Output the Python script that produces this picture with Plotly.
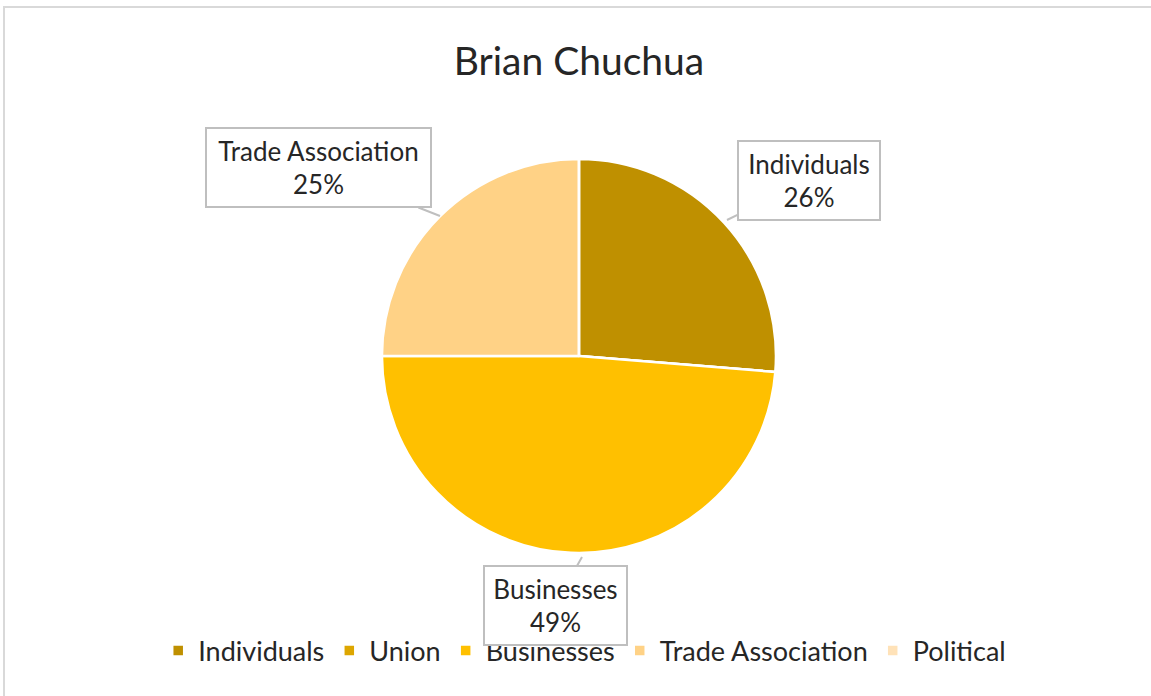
import plotly.graph_objects as go

title = "Brian Chuchua"
categories = ["Individuals", "Union", "Businesses", "Trade Association", "Political"]
values = [26.3, 0, 48.7, 25.0, 0]
colors = ["#BF9000", "#DDA600", "#FFC000", "#FFD286", "#FFE2B8"]

FONT = "Lato"

fig = go.Figure(go.Pie(
    labels=categories,
    values=values,
    sort=False,
    direction="clockwise",
    rotation=0,
    marker=dict(colors=colors, line=dict(color="white", width=2.5)),
    textinfo="none",
    hoverinfo="label+percent",
    domain=dict(x=[0.303, 0.703], y=[0.2055, 0.7716]),
    showlegend=True,
))

W, H = 1151, 696
def px(x):
    return x / W
def py(y):
    return 1 - y / H

callouts = [
    # label index, point on pie edge (px), box center (px), box size
    (3, (440, 216), (318, 168), (227, 81)),
    (0, (727, 220), (809, 180), (144, 81)),
    (2, (582, 557), (555, 605), (145, 81)),
]
total = sum(values)
for idx, (pxp, pyp), (bx, by), (bw, bh) in callouts:
    pct = round(values[idx] / total * 100)
    fig.add_annotation(
        x=px(pxp), y=py(pyp), xref="paper", yref="paper",
        ax=bx - pxp, ay=by - pyp, axref="pixel", ayref="pixel",
        showarrow=True, arrowhead=0, arrowwidth=2, arrowcolor="#BFBFBF",
        text=f"{categories[idx]}<br>{pct}%",
        font=dict(family=FONT, size=26, color="#262626"),
        width=bw - 6, height=bh - 6,
        bordercolor="#BFBFBF", borderwidth=2, bgcolor="white",
        align="center", valign="middle",
    )

fig.add_shape(type="rect", xref="paper", yref="paper",
              x0=px(4), x1=1.05, y0=-0.05, y1=py(7),
              line=dict(color="#D9D9D9", width=2))

fig.update_layout(
    width=W, height=H,
    margin=dict(l=0, r=0, t=0, b=0),
    paper_bgcolor="white",
    title=dict(text=title, x=0.503, xanchor="center", y=py(61), yanchor="middle",
               font=dict(family=FONT, size=39, color="#262626")),
    legend=dict(orientation="h", x=0.508, xanchor="center", y=py(651), yanchor="middle",
                font=dict(family=FONT, size=27, color="#262626"),
                itemwidth=30, traceorder="normal"),
)

fig.write_html("out.html", config={"displayModeBar": False},
               post_script="document.body.style.margin='0px';")
